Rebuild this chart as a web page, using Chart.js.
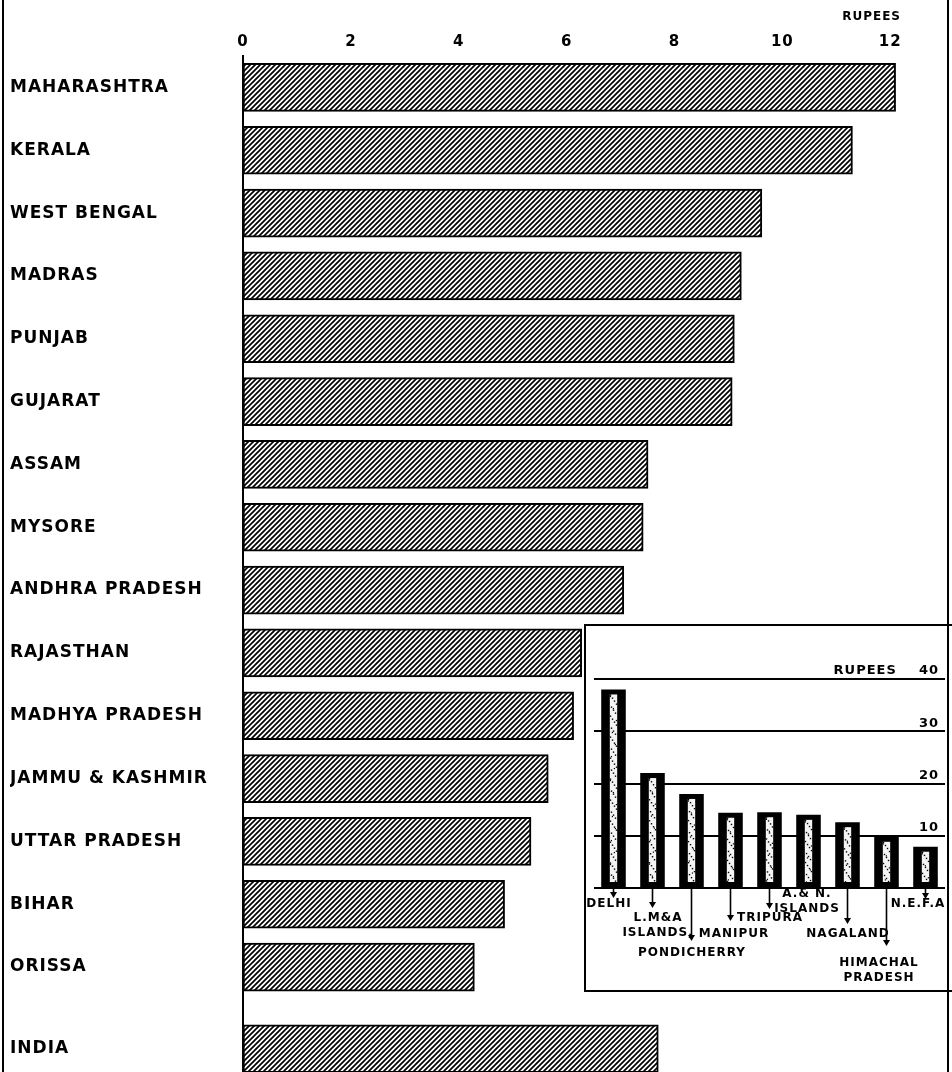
<!DOCTYPE html>
<html>
<head>
<meta charset="utf-8">
<script src="https://cdn.jsdelivr.net/npm/chart.js@4/dist/chart.umd.min.js"></script>
<style>
html,body{margin:0;padding:0;background:#fff;}
#wrap{position:relative;width:952px;height:1072px;overflow:hidden;background:#fff;}
#main{position:absolute;left:0;top:0;width:952px;height:1072px;}
#insetBox{position:absolute;left:584px;top:624px;width:366px;height:364px;border:2px solid #000;border-right:none;background:#fff;}
#inset{position:absolute;left:0;top:0;width:366px;height:364px;}
.vline{position:absolute;top:0;width:2px;height:1072px;background:#000;}
</style>
</head>
<body>
<div id="wrap">
  <canvas id="main" width="952" height="1072"></canvas>
  <div id="insetBox"><canvas id="inset" width="366" height="364"></canvas></div>
  <div class="vline" style="left:2px"></div>
  <div class="vline" style="left:947px"></div>
</div>
<script>
// ---------- DATA ----------
const states = ['MAHARASHTRA','KERALA','WEST BENGAL','MADRAS','PUNJAB','GUJARAT','ASSAM','MYSORE','ANDHRA PRADESH','RAJASTHAN','MADHYA PRADESH','JAMMU & KASHMIR','UTTAR PRADESH','BIHAR','ORISSA'];
const stateValues = [12.1, 11.3, 9.62, 9.24, 9.11, 9.07, 7.51, 7.42, 7.06, 6.28, 6.13, 5.66, 5.34, 4.85, 4.29];
const totalLabel = 'INDIA';
const totalValue = 7.7;
const xTickValues = [0, 2, 4, 6, 8, 10, 12];
const xAxisTitle = 'RUPEES';

const territories = ['DELHI', 'L.M&A\nISLANDS,', 'PONDICHERRY', 'MANIPUR', 'TRIPURA', 'A.& N.\nISLANDS', 'NAGALAND', 'HIMACHAL\nPRADESH', 'N.E.F.A'];
const territoryValues = [38, 22, 18, 14.4, 14.5, 14, 12.6, 9.8, 7.9];
const insetTickValues = [0, 10, 20, 30, 40];
const insetUnit = 'RUPEES';

// ---------- HELPERS ----------
const rowGap = 0.3; // extra space before the all-India row (in rows)
const rowPos = states.map((_, i) => i).concat([states.length + rowGap]);
const rowLabels = states.concat([totalLabel]);
const rowValues = stateValues.concat([totalValue]);

function hatchPattern(ctx) {
  const c = document.createElement('canvas');
  c.width = 5; c.height = 5;
  const g = c.getContext('2d');
  g.fillStyle = '#fff'; g.fillRect(0, 0, 5, 5);
  g.strokeStyle = '#000'; g.lineWidth = 1.7;
  g.beginPath();
  g.moveTo(-1, 6); g.lineTo(6, -1);
  g.moveTo(-1, 1); g.lineTo(1, -1);
  g.moveTo(4, 6); g.lineTo(6, 4);
  g.stroke();
  return ctx.createPattern(c, 'repeat');
}

const FONT = 'DejaVu Sans';

// ---------- MAIN CHART ----------
const mainCtx = document.getElementById('main').getContext('2d');
new Chart(mainCtx, {
  type: 'bar',
  data: {
    datasets: [{
      data: rowValues.map((v, i) => ({ x: v, y: rowPos[i] })),
      backgroundColor: hatchPattern(mainCtx),
      borderColor: '#000',
      borderWidth: 2,
      borderSkipped: false,
      barThickness: 48
    }]
  },
  options: {
    indexAxis: 'y',
    responsive: false,
    animation: false,
    events: [],
    layout: { autoPadding: false, padding: { left: 10, right: 51, top: 0, bottom: 0 } },
    plugins: { legend: { display: false }, tooltip: { enabled: false } },
    scales: {
      x: {
        type: 'linear', position: 'top', min: 0, max: 12.2, z: 0,
        afterBuildTicks: s => { s.ticks = xTickValues.map(v => ({ value: v })); },
        grid: { display: false, drawTicks: false },
        border: { display: false },
        ticks: { color: '#000', font: { family: FONT, size: 15, weight: 'bold' }, padding: 5, maxRotation: 0 },
        title: { display: true, text: xAxisTitle, align: 'end', color: '#000',
                 font: { family: FONT, size: 12, weight: 'bold' }, padding: { top: 10, bottom: 0 } },
        afterFit: s => { s.height = 56; s.paddingLeft = 0; s.paddingRight = 0; }
      },
      y: {
        type: 'linear', reverse: true, min: -0.5, max: 15.67, z: 1,
        offset: false,
        afterBuildTicks: s => { s.ticks = rowPos.map(v => ({ value: v })); },
        grid: { display: false, drawTicks: false, offset: false },
        border: { display: true, color: '#000', width: 2 },
        ticks: { color: '#000', crossAlign: 'far', padding: 0, autoSkip: false,
                 font: { family: FONT, size: 17, weight: 'bold' },
                 callback: (v, i) => rowLabels[i] },
        afterFit: s => { s.width = 233; s.paddingTop = 0; s.paddingBottom = 0; }
      }
    }
  },
  plugins: [{
    id: 'spacing',
    beforeDraw(c) { c.ctx.letterSpacing = '1px'; },
    afterDatasetsDraw(c) { c.ctx.letterSpacing = '3.6px'; }
  }]
});

// ---------- INSET CHART ----------
const insetLayout = [ // arrow length below baseline, label anchor offset (dx, dy) from bar centre / baseline
  { arrow: 10, dx: -5, dy: 16 },
  { arrow: 20, dx: 5,  dy: 30 },
  { arrow: 53, dx: 0,  dy: 65 },
  { arrow: 33, dx: 3,  dy: 46 },
  { arrow: 21, dx: 0,  dy: 30 },
  { arrow: 0,  dx: -2, dy: 6 },
  { arrow: 36, dx: 0,  dy: 46 },
  { arrow: 58, dx: -8, dy: 75 },
  { arrow: 11, dx: -8, dy: 16 }
];

const insetDecor = {
  id: 'insetDecor',
  beforeDraw(c) { c.ctx.letterSpacing = '1px'; },
  afterDatasetsDraw(c) {
    const ctx = c.ctx;
    const meta = c.getDatasetMeta(0);
    ctx.save();
    meta.data.forEach((el, i) => {
      const sw = el.width * 0.3;
      const sx = el.x - sw / 2;
      const top = el.y + 5, bot = el.base - 5;
      ctx.fillStyle = '#f4f4f4';
      ctx.fillRect(sx, top, sw, bot - top);
      ctx.fillStyle = '#000';
      let k = 0;
      const w = Math.max(1, Math.floor(sw));
      for (let yy = top; yy < bot; yy += 3, k++) {
        ctx.fillRect(sx + ((k * 37) % w), yy, 1.4, 1.4);
        if (k % 4 === 0) ctx.fillRect(sx + ((k * 13) % w), yy + 1.5, 1.2, 1.2);
      }
    });
    ctx.restore();
  },
  afterDraw(c) {
    const ctx = c.ctx;
    const meta = c.getDatasetMeta(0);
    const base = c.scales.y.getPixelForValue(0);
    ctx.save();
    ctx.letterSpacing = '1px';
    ctx.fillStyle = '#000';
    ctx.strokeStyle = '#000';
    ctx.lineWidth = 1.6;
    ctx.font = 'bold 12px "' + FONT + '"';
    ctx.textAlign = 'center';
    ctx.textBaseline = 'middle';
    meta.data.forEach((el, i) => {
      const a = insetLayout[i];
      const x = el.x;
      if (a.arrow > 0) {
        const end = base + a.arrow;
        ctx.beginPath(); ctx.moveTo(x, base); ctx.lineTo(x, end - 3); ctx.stroke();
        ctx.beginPath(); ctx.moveTo(x - 3.5, end - 6); ctx.lineTo(x + 3.5, end - 6); ctx.lineTo(x, end); ctx.closePath(); ctx.fill();
      }
      territories[i].split('\n').forEach((line, j) => {
        ctx.fillText(line, x + a.dx + 0.5, base + a.dy + j * 15);
      });
    });
    ctx.restore();
  }
};

new Chart(document.getElementById('inset').getContext('2d'), {
  type: 'bar',
  data: {
    labels: territories,
    datasets: [{
      data: territoryValues,
      backgroundColor: '#000',
      borderWidth: 0,
      categoryPercentage: 1,
      barPercentage: 0.63
    }]
  },
  options: {
    responsive: false,
    animation: false,
    events: [],
    layout: { autoPadding: false, padding: { left: 8, right: 7, top: 53, bottom: 102 } },
    plugins: { legend: { display: false }, tooltip: { enabled: false } },
    scales: {
      x: { display: false },
      y: {
        position: 'right', min: 0, max: 40,
        afterBuildTicks: s => { s.ticks = insetTickValues.map(v => ({ value: v })); },
        grid: { color: '#000', lineWidth: 2, drawTicks: false },
        border: { display: false },
        ticks: { mirror: true, padding: -6, labelOffset: -8, color: '#000',
                 font: { family: FONT, size: 13, weight: 'bold' },
                 callback: v => v === 40 ? insetUnit + '    ' + v : String(v) },
        afterFit: s => { s.width = 0; s.paddingTop = 0; s.paddingBottom = 0; }
      }
    }
  },
  plugins: [insetDecor]
});
</script>
</body>
</html>
